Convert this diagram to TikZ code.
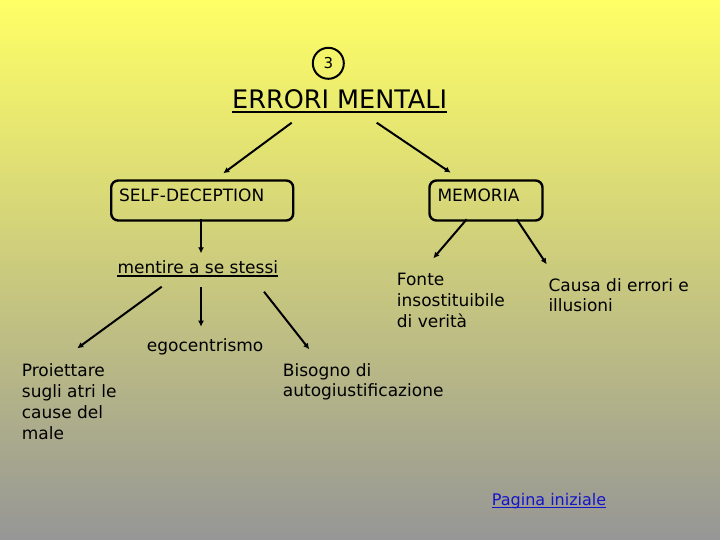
\documentclass[tikz,border=0pt]{standalone}
\usepackage{fontspec}
\setmainfont{DejaVu Sans}
\usetikzlibrary{arrows.meta}
\definecolor{bgtop}{RGB}{255,255,102}
\definecolor{bgbot}{RGB}{150,150,150}
\definecolor{linkblue}{RGB}{20,20,200}
\begin{document}
\begin{tikzpicture}[x=1pt,y=-1pt,
  txt/.style={inner sep=0pt, anchor=base west, font=\fontsize{17}{21}\selectfont, align=left},
  boxnode/.style={draw, line width=2.4pt, rounded corners=7pt, inner xsep=8pt, inner ysep=0pt,
    minimum height=40pt, text depth=11pt, align=left, font=\fontsize{17}{21}\selectfont},
  arr/.style={line width=2pt, -{Latex[length=6pt,width=6pt]}},
  uline/.style={line width=2pt}]
\shade[top color=bgtop, bottom color=bgbot] (0,0) rectangle (720,540);
\useasboundingbox (0,0) rectangle (720,540);

% number circle
\node[draw, circle, line width=2pt, minimum size=31pt, inner sep=0pt,
  font=\fontsize{15}{17}\selectfont] (num) at (328.3,63.3) {3};

% title
\node[txt, font=\fontsize{25.5}{30}\selectfont] (title) at (232,108.3) {ERRORI MENTALI};
\draw[uline, line width=2.2pt] ([yshift=-3.4pt]title.base west) -- ([yshift=-3.4pt]title.base east);

% boxes
\node[boxnode, text width=166pt, anchor=north west] (self) at (110,179.3) {SELF-DECEPTION};
\node[boxnode, text width=97pt, anchor=north west] (mem) at (428.3,179.3) {MEMORIA};

% second level (multi-line nodes: base = last line's baseline)
\node[txt] (ment) at (117.3,273.3) {mentire a se stessi};
\draw[uline, line width=1.8pt] ([yshift=-2.6pt]ment.base west) -- ([yshift=-2.6pt]ment.base east);
\node[txt] (ego) at (146.7,351.5) {egocentrismo};
\node[txt] (proi) at (21.7,439.7) {Proiettare\\sugli atri le\\cause del\\male};
\node[txt, font=\fontsize{17}{20}\selectfont] (biso) at (282.7,396.7) {Bisogno di\\autogiustificazione};
\node[txt] (fonte) at (396.7,327) {Fonte\\insostituibile\\di verità};
\node[txt, font=\fontsize{17}{20}\selectfont] (causa) at (548.3,311.7) {Causa di errori e\\illusioni};

% link
\node[txt, font=\fontsize{16}{19}\selectfont, text=linkblue] (link) at (491.7,505) {Pagina iniziale};
\draw[linkblue, line width=1.6pt] ([yshift=-2.5pt]link.base west) -- ([yshift=-2.5pt]link.base east);

% connector end points
\coordinate (a1s) at (291.7,122.7); \coordinate (a1e) at (223.3,173.3);
\coordinate (a2s) at (376.7,122.7); \coordinate (a2e) at (450.7,172.7);
\coordinate (b1s) at (201,219.3);   \coordinate (b1e) at (201,253.3);
\coordinate (c1s) at (161.7,286.7); \coordinate (c1e) at (77.3,348.3);
\coordinate (c2s) at (201,287.3);   \coordinate (c2e) at (201,326.7);
\coordinate (c3s) at (264,291.7);   \coordinate (c3e) at (309.3,349.3);
\coordinate (d1s) at (466.7,219.3); \coordinate (d1e) at (433.3,258.3);
\coordinate (d2s) at (516.7,219.3); \coordinate (d2e) at (546.7,264.3);

\draw[arr] (a1s) -- (a1e);
\draw[arr] (a2s) -- (a2e);
\draw[arr] (b1s) -- (b1e);
\draw[arr] (c1s) -- (c1e);
\draw[arr] (c2s) -- (c2e);
\draw[arr] (c3s) -- (c3e);
\draw[arr] (d1s) -- (d1e);
\draw[arr] (d2s) -- (d2e);
\end{tikzpicture}
\end{document}
